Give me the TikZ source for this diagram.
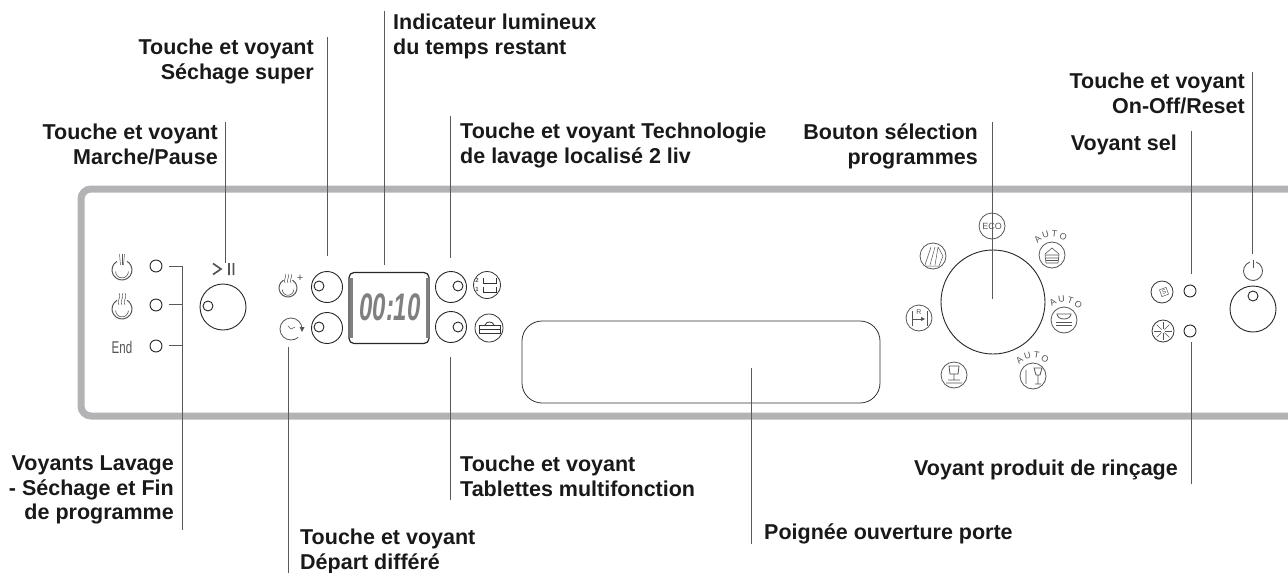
\documentclass[tikz,border=0pt]{standalone}
\usepackage{fontspec}
\setmainfont{Liberation Sans}
\usetikzlibrary{positioning,calc}
\definecolor{panelgray}{HTML}{B3B3B6}
\definecolor{icongray}{HTML}{555558}
\tikzset{
 lbl/.style={font=\bfseries\fontsize{21.5}{24.5}\selectfont,text=black!90,inner sep=0pt},
 lblr/.style={lbl,align=right,anchor=north east},
 lbll/.style={lbl,align=left,anchor=north west},
 leader/.style={draw=black!65,line width=1pt},
 knob/.style={draw=black!85,line width=0.9pt,fill=white},
 icon/.style={draw=icongray,line width=0.8pt},
 tiny/.style={text=icongray,inner sep=0pt,font=\fontsize{9}{10}\selectfont},
}
\newcommand{\autoarc}[3]{\foreach \l/\ang in {A/38,U/13,T/-12,O/-37}
 {\node[tiny,rotate=\ang+#3-90] at ($(#1,#2)+({-(#3+\ang)}:21)$) {\l};}}
\newcommand{\steamicon}[3]{
 \draw[icon,line width=1pt] (#1-#3*0.5,#2-#3*0.866) arc[start angle=120,delta angle=300,radius=#3pt];
 \draw[icon,line width=0.6pt] (#1-#3*0.64,#2+1.5) arc[start angle=180,end angle=360,radius=#3*0.64pt];}
\begin{document}
\begin{tikzpicture}[x=1pt,y=-1pt]
\useasboundingbox (0,0) rectangle (1288,573);
% panel and handle
\draw[panelgray,line width=7pt,rounded corners=10pt] (1300,189)--(81,189)--(81,416)--(1300,416);
\node[draw=black!80,line width=0.8pt,rounded corners=20pt,minimum width=358pt,minimum height=82pt,inner sep=0pt] (handle) at (701,362) {};
% labels
\node[lbll] (lblind) at (393,14) {Indicateur lumineux\\du temps restant};
\node[lblr] (lblsec) at (314,39) {Touche et voyant\\Séchage super};
\node[lblr] (lblmar) at (218,124) {Touche et voyant\\Marche/Pause};
\node[lbll] (lbltec) at (460,123) {Touche et voyant Technologie\\de lavage localisé 2 liv};
\node[lblr] (lblbou) at (978,124) {Bouton sélection\\programmes};
\node[lblr] (lblon) at (1245,73) {Touche et voyant\\On-Off/Reset};
\node[lblr] (lblsel) at (1177,135) {Voyant sel};
\node[lblr] (lbllav) at (174,456) {Voyants Lavage\\- Séchage et Fin\\de programme};
\node[lbll] (lbltab) at (460,456) {Touche et voyant\\Tablettes multifonction};
\node[lbll] (lbldep) at (300,529) {Touche et voyant\\Départ différé};
\node[lbll] (lblpoi) at (764,524) {Poignée ouverture porte};
\node[lblr] (lblrin) at (1178,460) {Voyant produit de rinçage};
% knobs
\node[knob,circle,minimum size=46pt,inner sep=0pt] (kmar) at (223,307) {};
\node[knob,circle,minimum size=31pt,inner sep=0pt] (ksec) at (327,287) {};
\node[knob,circle,minimum size=31pt,inner sep=0pt] (kdep) at (327,328) {};
\node[knob,circle,minimum size=31pt,inner sep=0pt] (ktec) at (451,287) {};
\node[knob,circle,minimum size=31pt,inner sep=0pt] (ktab) at (451,327) {};
\node[knob,circle,minimum size=104pt,inner sep=0pt] (kprog) at (993,302) {};
\node[knob,circle,minimum size=46pt,inner sep=0pt] (kon) at (1253,309) {};
\foreach \n/\x/\y in {lmar/208/306,lsec/319/286,ldep/319/327,ltec/458/286,ltab/458/327,lon/1253/296}
 \node[knob,circle,minimum size=10pt,inner sep=0pt] (\n) at (\x,\y) {};
\foreach \n/\x/\y in {lav/156/266,sec/156/305,fin/156/346,sel/1190/291,rin/1190/331}
 \node[knob,circle,minimum size=12pt,inner sep=0pt] (\n) at (\x,\y) {};
% programme icons first, the leader crosses them
\foreach \n/\x/\y in {ieco/992/226,ipot/1052/255,idis/1064/320,iglc/1033/376,igla/954/375,irin/919/318,ishw/933/256}
 \node[icon,circle,minimum size=26pt,inner sep=0pt] (\n) at (\x,\y) {};
\node[tiny,font=\fontsize{9}{9}\selectfont] (teco) at (992,226) {ECO};
% leaders
\foreach \n/\x/\ya/\yb in {ind/384/11/265,seca/327/37/256,mara/225/122/263,teca/450/116/258,taba/450/357/500,depa/288/347/573,poia/751/368/544,boua/992/122/299,onoa/1252/72/254,sela/1191/131/274,rina/1191/342/484}{
 \coordinate (\n1) at (\x,\ya);
 \coordinate (\n2) at (\x,\yb);
 \draw[leader] (\n1)--(\n2);}
\coordinate (bt) at (182,266);
\coordinate (bb) at (182,530);
\draw[leader] (bt)--(bb);
\foreach \n/\y in {lav/266,sec/304,fin/345}{
 \coordinate (t\n) at (169,\y);
 \coordinate (u\n) at (182,\y);
 \draw[leader] (t\n)--(u\n);}
% left icons
\steamicon{122}{270}{10}
\foreach \d in {-2.5,0,2.5} \draw[icon,line width=0.5pt] (122+\d,254)--(122+\d*0.6,265);
\steamicon{122}{309}{10}
\foreach \d in {-3,0,3} \draw[icon,line width=0.5pt] (122+\d,293) .. controls (122+\d+3,297) and (122+\d-3,301) .. (122+\d,305);
\node[text=icongray,inner sep=0pt,font=\fontsize{17}{17}\selectfont,xscale=0.68] (end) at (122,347) {End};
\draw[icongray,line width=1.7pt] (213,263.5)--(221,269)--(213,274.5) (229,263)--(229,275) (233.5,263)--(233.5,275);
% delay icons
\steamicon{288}{288}{9}
\foreach \d in {-3,0,3} \draw[icon,line width=0.5pt] (288+\d,274) .. controls (288+\d+2.5,277) and (288+\d-2.5,280) .. (288+\d,283);
\node[tiny,font=\fontsize{11}{11}\selectfont] (plus) at (300,278) {+};
\coordinate (cclock) at (291,329);
\draw[icon] ($(cclock)+(11,0)$) arc[start angle=0,delta angle=310,radius=11pt];
\fill[icongray] (299.5,327)--(304.5,327)--(302,332)--cycle;
\draw[icon,line width=0.5pt] (288,326)--(291,329)--(295,327);
% display
\node[draw=black!85,line width=1.2pt,rounded corners=5pt,minimum width=80pt,minimum height=71pt,inner sep=0pt] (disp) at (389,308) {};
\draw[black!50,line width=3pt] (351,278)--(351,338);
\draw[black!50,line width=3pt] (427,278)--(427,338);
\node[text=black!50,inner sep=0pt,font=\bfseries\itshape\fontsize{24}{24}\selectfont,yscale=1.6] (time) at (390,307) {00:10};
% right-hand icons of the display
\node[icon,circle,draw=black!80,minimum size=27pt,inner sep=0pt] (ilev) at (487,285) {};
\node[tiny,font=\fontsize{6}{6}\bfseries\selectfont] (ltwo) at (477,280) {2};
\node[tiny,font=\fontsize{6}{6}\bfseries\selectfont] (lone) at (477,289) {1};
\draw[icon,black!80] (483,278)--(483,283)--(496,283)--(496,278) (483,287)--(483,292)--(496,292)--(496,287);
\node[icon,circle,draw=black!80,minimum size=28pt,inner sep=0pt] (itab) at (489,328) {};
\draw[icon,black!80] (479,325) rectangle (500,333) (479,329)--(500,329);
\draw[icon,black!80] (485,325) .. controls (486,321) and (493,321) .. (494,325);
% programme symbols
\autoarc{1052}{255}{95}
\autoarc{1064}{320}{84}
\autoarc{1033}{376}{92}
\draw[icon,line width=0.6pt] (1045,255)--(1059,255)--(1058,263)--(1046,263)--cycle (1046,258)--(1058,258) (1046,260.5)--(1058,260.5) (1045,254)--(1052,248)--(1059,254);
\draw[icon] (1057,314) arc[start angle=180,end angle=360,x radius=7pt,y radius=5pt] -- cycle;
\draw[icon] (1056,322)--(1072,322) (1056,325.5)--(1072,325.5);
\draw[icon] (1034,368)--(1042,368)--(1040,375)--(1036,375)--cycle (1038,375)--(1038,384) (1035,384)--(1041,384) (1026,370)--(1026,384);
\draw[icon] (949,366)--(959,366)--(958,374)--(950,374)--cycle (954,374)--(954,380) (948,380)--(960,380) (946,383)--(962,383);
\draw[icon] (912,311)--(912,326) (927,311)--(927,326) (912,319)--(922,319);
\fill[icongray] (925,319)--(921,317)--(921,321)--cycle;
\node[tiny,font=\fontsize{7}{7}\selectfont] (trin) at (919,312) {R};
\draw[icon,line width=0.5pt] (925,265)--(931,247) (930,265)--(935,247) (935,265)--(938,247) (925,266)--(939,266)--(943,256)--(938,247);
% right-hand icons
\node[icon,circle,draw=black!80,minimum size=22pt,inner sep=0pt] (isal) at (1162,292) {};
\node[tiny,font=\fontsize{6}{6}\selectfont,draw=icongray,line width=0.5pt,rotate=20,inner sep=1.5pt] (tsal) at (1164,292) {S};
\node[icon,circle,draw=black!80,minimum size=22pt,inner sep=0pt] (ista) at (1163,331) {};
\foreach \a in {0,45,...,315} \draw[icon,line width=0.5pt] ($(ista)+(\a:2)$)--($(ista)+(\a:9)$);
\coordinate (cpow) at (1253,271);
\draw[draw=icongray,line width=0.9pt] ($(cpow)+(3.25,-8.93)$) arc[start angle=70,delta angle=-320,radius=9.5pt];
\draw[draw=icongray,line width=0.9pt] (1253,260)--(1253,268);
\end{tikzpicture}
\end{document}
